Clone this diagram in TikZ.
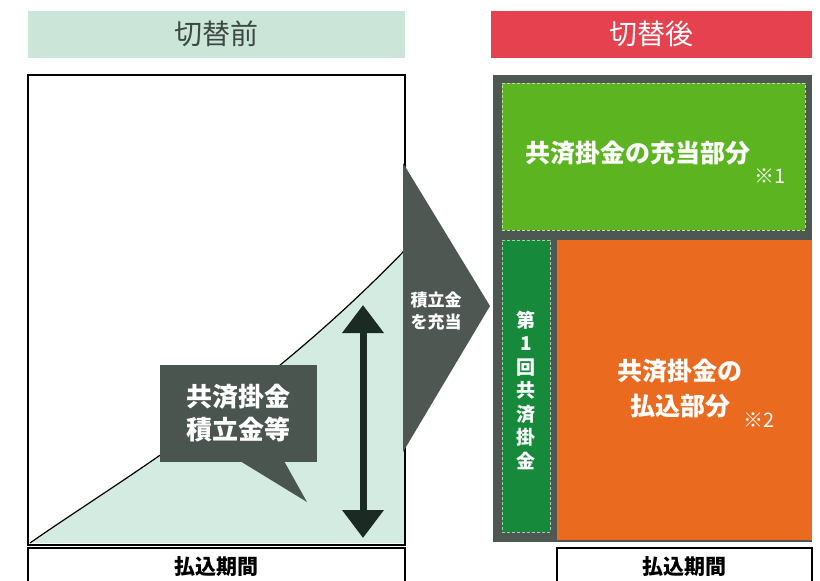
\documentclass[tikz,border=0pt]{standalone}
\usepackage{fontspec}
\newfontfamily\jp{Noto Sans CJK JP}
\usetikzlibrary{arrows.meta}
\definecolor{mintbg}{HTML}{CBE5D8}
\definecolor{mintfill}{HTML}{D3EBE1}
\definecolor{hdrred}{HTML}{E5414F}
\definecolor{framegray}{HTML}{4F5753}
\definecolor{calloutgray}{HTML}{4B5550}
\definecolor{lightgreen}{HTML}{5CB520}
\definecolor{darkgreen}{HTML}{17893A}
\definecolor{payorange}{HTML}{EA6A1F}
\definecolor{arrowdark}{HTML}{1B2A22}
\definecolor{hdrtext}{HTML}{3C4A45}
\begin{document}
\begin{tikzpicture}[x=1pt,y=-1pt,
  hdr/.style={minimum width=321, minimum height=47, inner sep=0},
  wtxt/.style={text=white, font=\jp\bfseries, align=center, inner sep=0},
  period/.style={draw=black, line width=1.2, fill=white, inner sep=0}]
\useasboundingbox (0,0) rectangle (820,581);

% headers
\node[hdr, fill=mintbg, minimum width=377, text=hdrtext, font=\jp\fontsize{28}{30}\selectfont] (hdrL) at (216.5,34) {切替前};
\node[hdr, fill=hdrred, text=white, font=\jp\fontsize{28}{30}\selectfont] (hdrR) at (651.5,34) {切替後};

% before: box and accumulation
\fill[white] (28,75) rectangle (405,545);
\fill[mintfill] (30,543) .. controls (120,480) and (260,400) .. (405,250) -- (405,543) -- cycle;
\draw[line width=1.2, black] (30,543) .. controls (120,480) and (260,400) .. (405,250);
\draw[line width=2, black] (28,75) rectangle (405,545);

% transfer arrow
\fill[framegray] (403,163) -- (490,306) -- (403,452) -- cycle;
\node[wtxt, font=\jp\bfseries\fontsize{17}{22}\selectfont] (transfer) at (436,311) {積立金\\を充当};

% callout
\fill[calloutgray] (160,365) rectangle (317,462);
\fill[calloutgray] (240,461) -- (307,502) -- (284,461) -- cycle;
\node[wtxt, font=\jp\bfseries\fontsize{26}{33}\selectfont] (callout) at (238,413) {共済掛金\\積立金等};

% amount arrow
\coordinate (amtTop) at (363,305);
\coordinate (amtBot) at (363,538);
\draw[arrowdark, line width=7, {Triangle[width=40pt,length=28pt]}-{Triangle[width=40pt,length=28pt]}] (amtTop) -- (amtBot);

% after
\fill[framegray] (493,75) rectangle (812,542);
\node[fill=lightgreen, draw=white!60!lightgreen, densely dashed, line width=0.6, minimum width=303, minimum height=147, inner sep=0] (alloc) at (653.5,156.5) {};
\node[wtxt, font=\jp\bfseries\fontsize{25}{30}\selectfont] (allocTxt) at (638,153) {共済掛金の充当部分};
\node[text=white, font=\jp\fontsize{20}{22}\selectfont, inner sep=0] (note1) at (770,176) {※1};

\node[fill=darkgreen, draw=white!60!darkgreen, densely dashed, line width=0.6, minimum width=48, minimum height=292, inner sep=0] (first) at (526,386) {};
\node[wtxt, font=\jp\bfseries\fontsize{19}{23.5}\selectfont] (firstTxt) at (526,390) {第\\1\\回\\共\\済\\掛\\金};

\node[fill=payorange, minimum width=255, minimum height=300, inner sep=0] (pay) at (684.5,390) {};
\node[wtxt, font=\jp\bfseries\fontsize{25}{35}\selectfont] (payTxt) at (680,389) {共済掛金の\\払込部分};
\node[text=white, font=\jp\fontsize{20}{22}\selectfont, inner sep=0] (note2) at (759,420) {※2};

% payment period
\node[period, minimum width=377, minimum height=38] (periodL) at (216.5,567) {};
\node[font=\jp\bfseries\fontsize{21}{24}\selectfont, inner sep=0] (periodLTxt) at (216.5,567) {払込期間};
\node[period, minimum width=255, minimum height=38] (periodR) at (684.5,567) {};
\node[font=\jp\bfseries\fontsize{21}{24}\selectfont, inner sep=0] (periodRTxt) at (684.5,567) {払込期間};
\end{tikzpicture}
\end{document}
